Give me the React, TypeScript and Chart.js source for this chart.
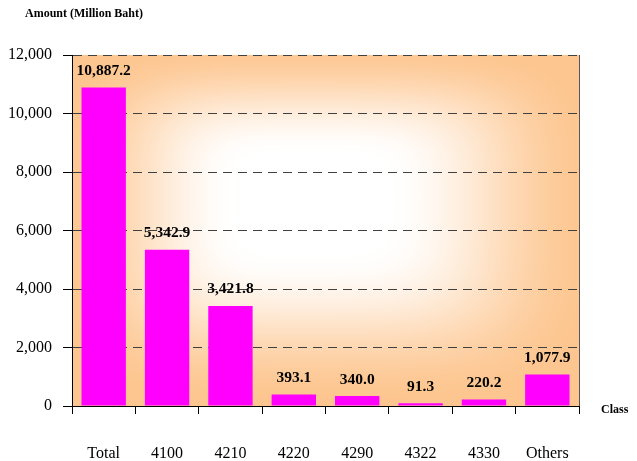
import React, { useEffect, useRef } from "react";
import { Chart, registerables } from "chart.js";

Chart.register(...registerables);

const categories = ["Total", "4100", "4210", "4220", "4290", "4322", "4330", "Others"];
const amounts = [10887.2, 5342.9, 3421.8, 393.1, 340.0, 91.3, 220.2, 1077.9];
const yTitle = "Amount (Million Baht)";
const xTitle = "Class";

const SERIF = "'Liberation Serif', 'Times New Roman', serif";

const fmt = (v: number, d: number) =>
  v.toLocaleString("en-US", { minimumFractionDigits: d, maximumFractionDigits: d });

function makeBackground(w: number, h: number): HTMLCanvasElement {
  const c = document.createElement("canvas");
  c.width = w;
  c.height = h;
  const cx = c.getContext("2d")!;
  const img = cx.createImageData(w, h);
  const ox = w * 0.462;
  const oy = h * 0.4;
  const edge = [253, 198, 144];
  for (let y = 0; y < h; y++) {
    const dy = y - oy;
    const ry = dy < 0 ? h * 0.46 : h * 0.62;
    for (let x = 0; x < w; x++) {
      const dx = x - ox;
      const rx = dx < 0 ? w * 0.52 : w * 0.6;
      const a = Math.abs(dx / rx);
      const b = Math.abs(dy / ry);
      const t = Math.pow(Math.pow(a, 4) + Math.pow(b, 4), 0.25);
      let s = (t - 0.25) / 0.7;
      s = Math.max(0, Math.min(1, s));
      s = s * s * (3 - 2 * s);
      const i = (y * w + x) * 4;
      img.data[i] = Math.round(255 + (edge[0] - 255) * s);
      img.data[i + 1] = Math.round(255 + (edge[1] - 255) * s);
      img.data[i + 2] = Math.round(255 + (edge[2] - 255) * s);
      img.data[i + 3] = 255;
    }
  }
  cx.putImageData(img, 0, 0);
  return c;
}

export default function App() {
  const ref = useRef<HTMLCanvasElement | null>(null);
  useEffect(() => {
    document.body.style.margin = "0";
    const canvas = ref.current!;
    let bgCache: HTMLCanvasElement | null = null;
    const bgPlugin = {
      id: "bg",
      beforeDraw(chart: any) {
        const { ctx, chartArea: a } = chart;
        const w = Math.round(a.right - a.left);
        const h = Math.round(a.bottom - a.top);
        if (!bgCache || bgCache.width !== w || bgCache.height !== h) bgCache = makeBackground(w, h);
        ctx.drawImage(bgCache, a.left, a.top);
      },
      afterDraw(chart: any) {
        const { ctx, chartArea: a } = chart;
        ctx.save();
        ctx.strokeStyle = "#555";
        ctx.lineWidth = 1;
        ctx.beginPath();
        ctx.moveTo(a.right + 0.5, a.top);
        ctx.lineTo(a.right + 0.5, a.bottom);
        ctx.stroke();
        ctx.fillStyle = "#000";
        ctx.font = `bold 12px ${SERIF}`;
        ctx.textAlign = "left";
        ctx.textBaseline = "middle";
        ctx.fillText(yTitle, 25, 14);
        ctx.fillText(xTitle, 601, 410);
        ctx.restore();
      },
      afterDatasetsDraw(chart: any) {
        const { ctx } = chart;
        const meta = chart.getDatasetMeta(0);
        ctx.save();
        ctx.fillStyle = "#000";
        ctx.font = `bold 15.5px ${SERIF}`;
        ctx.textAlign = "center";
        ctx.textBaseline = "middle";
        meta.data.forEach((bar: any, i: number) => {
          ctx.fillText(fmt(amounts[i], 1), bar.x, bar.y - 16.5);
        });
        ctx.restore();
      },
    };
    const chart = new Chart(canvas, {
      type: "bar",
      data: {
        labels: categories,
        datasets: [
          {
            data: amounts,
            backgroundColor: "#ff00ff",
            borderWidth: 0,
            barPercentage: 0.7,
            categoryPercentage: 1,
          },
        ],
      },
      options: {
        animation: false,
        responsive: false,
        devicePixelRatio: 1,
        layout: { padding: { top: 55, right: 58, left: 0, bottom: 0 } },
        plugins: { legend: { display: false }, tooltip: { enabled: false } },
        scales: {
          x: {
            offset: true,
            afterFit(scale: any) {
              scale.height = 55;
            },
            grid: {
              offset: true,
              drawOnChartArea: false,
              drawTicks: true,
              tickLength: 8,
              color: "#000",
            },
            border: { display: true, color: "#000", width: 1 },
            ticks: {
              color: "#000",
              font: { family: SERIF, size: 16 },
              padding: 30,
              maxRotation: 0,
            },
          },
          y: {
            min: 0,
            max: 12000,
            afterFit(scale: any) {
              scale.width = 72;
            },
            grid: {
              color: "#404040",
              drawTicks: true,
              tickLength: 9,
              tickColor: "#000",
              tickBorderDash: [],
            } as any,
            border: { display: true, color: "#000", width: 1, dash: [9, 6] },
            ticks: {
              stepSize: 2000,
              color: "#000",
              font: { family: SERIF, size: 16 },
              padding: 11,
              callback: (v: any) => fmt(Number(v), 0),
            },
          },
        },
      },
      plugins: [bgPlugin],
    });
    return () => chart.destroy();
  }, []);
  return (
    <div style={{ position: "absolute", left: 0, top: 0, width: 637, height: 461, background: "#fff" }}>
      <canvas ref={ref} width={637} height={461} style={{ width: 637, height: 461 }} />
    </div>
  );
}
